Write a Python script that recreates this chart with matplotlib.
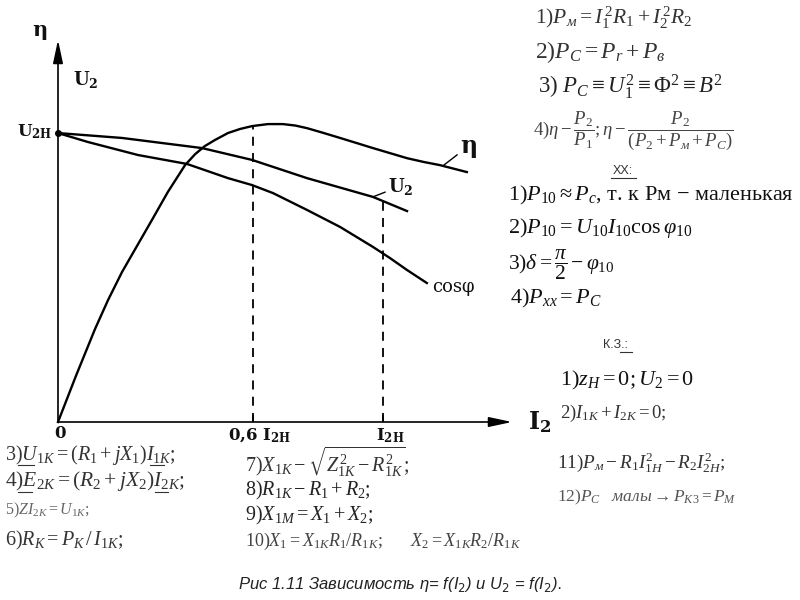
import matplotlib
matplotlib.use('Agg')
import matplotlib.pyplot as plt
from matplotlib.lines import Line2D

plt.rcParams['mathtext.fontset'] = 'custom'
plt.rcParams['mathtext.rm'] = 'Liberation Serif'
plt.rcParams['mathtext.it'] = 'Liberation Serif:italic'
plt.rcParams['mathtext.bf'] = 'Liberation Serif:bold'
plt.rcParams['mathtext.fallback'] = 'stix'

# load current I2 / I2H and relative values
eta_x = [0, 0.055, 0.114, 0.154, 0.197, 0.243, 0.289, 0.338, 0.391, 0.422,
         0.452, 0.483, 0.523, 0.56, 0.597, 0.646, 0.692, 0.73, 0.766, 0.815,
         0.868, 0.92, 0.969, 1.02, 1.074, 1.125, 1.175, 1.258]
eta_y = [0, 0.159, 0.322, 0.422, 0.519, 0.609, 0.699, 0.796, 0.889, 0.927,
         0.955, 0.976, 1.000, 1.014, 1.024, 1.031, 1.031, 1.026, 1.017, 1.001,
         0.983, 0.965, 0.948, 0.931, 0.913, 0.900, 0.889, 0.865]
u2_x = [0, 0.197, 0.443, 0.597, 0.766, 0.969, 1.074]
u2_y = [1.0, 0.983, 0.948, 0.907, 0.844, 0.779, 0.730]
cos_x = [0, 0.092, 0.246, 0.397, 0.523, 0.597, 0.662, 0.766, 0.868, 0.969,
         1.022, 1.074, 1.135]
cos_y = [1.0, 0.969, 0.924, 0.893, 0.844, 0.820, 0.792, 0.734, 0.675, 0.606,
         0.567, 0.526, 0.481]
dash_x = [0.6, 1.0]
dash_top = [1.026, 0.77]

W, H = 800, 600
fig = plt.figure(figsize=(8, 6), dpi=100)
ax = fig.add_axes([58 / W, 1 - 422 / H, 454 / W, 382 / H])
ax.set_xlim(0, 1.397)
ax.set_ylim(0, 1.322)
ax.axis('off')

ax.plot(eta_x, eta_y, color='k', lw=1.7, clip_on=False, solid_joinstyle='round')
ax.plot(u2_x, u2_y, color='k', lw=1.7, clip_on=False, solid_joinstyle='round')
ax.plot(cos_x, cos_y, color='k', lw=1.7, clip_on=False, solid_joinstyle='round')
ax.plot(0, 1.0, 'o', color='k', ms=4, clip_on=False)
for x, top in zip(dash_x, dash_top):
    ax.plot([x, x], [0, top], color='k', lw=1.3, ls=(0, (5, 4)))
    ax.plot([x, x], [0, 0.02], color='k', lw=1.2)

arr = dict(arrowstyle='-|>,head_length=1.4,head_width=0.3', lw=1.2,
           color='k', shrinkA=0, shrinkB=0)
ax.annotate('', xy=(1.397, 0), xytext=(0, 0), arrowprops=arr)
ax.annotate('', xy=(0, 1.322), xytext=(0, 0), arrowprops=arr)


def fp(x, y):
    return (x / W, 1 - y / H)


def uline(x0, x1, y, c='#333333'):
    fig.add_artist(Line2D([x0 / W, x1 / W], [1 - y / H, 1 - y / H], color=c, lw=0.8))


lab = dict(family='DejaVu Serif', math_fontfamily='dejavuserif',
           fontweight='bold', color='#111111')
fig.text(*fp(40, 30), r'η', fontsize=15, ha='center', va='center', **lab)
fig.text(*fp(86, 80), r'U$_\mathbf{2}$', fontsize=13, ha='center', va='center', **lab)
fig.text(*fp(52, 132), r'U$_\mathbf{2H}$', fontsize=12, ha='right', va='center', **lab)
fig.text(*fp(60, 433), '0', fontsize=12, ha='center', va='center', **lab)
fig.text(*fp(260, 436), r'0,6 I$_\mathbf{2H}$', fontsize=12, ha='center', va='center', **lab)
fig.text(*fp(390, 436), r'I$_\mathbf{2H}$', fontsize=12, ha='center', va='center', **lab)
fig.text(*fp(540, 422), r'I$_\mathbf{2}$', fontsize=17, ha='center', va='center', **lab)

lead = dict(arrowstyle='-', lw=1.0, color='k', shrinkA=0, shrinkB=0)
ax.annotate(r'η', xy=(1.185, 0.887), xytext=fp(460, 146), textcoords='figure fraction',
            fontsize=17, ha='left', va='center', arrowprops=lead, **lab)
ax.annotate(r'U$_\mathbf{2}$', xy=(0.969, 0.779), xytext=fp(388, 186),
            textcoords='figure fraction', fontsize=13, ha='left', va='center',
            arrowprops=lead, **lab)
fig.text(*fp(432, 287), 'cosφ', fontsize=13, ha='left', va='center',
         family='DejaVu Serif', color='#111111')

fs = dict(family='Liberation Serif', math_fontfamily='custom', ha='left', va='center')
right = [
    (535, 18, r'1)$P_{м} = I_1^{\,2}R_1 + I_2^{\,2}R_2$', 15.5, '#333333'),
    (535, 52, r'2)$P_C = P_r + P_в$', 17, '#333333'),
    (538, 87, r'3) $P_C \equiv U_1^2 \equiv Φ^2 \equiv B^2$', 16.5, '#222222'),
    (533, 131, r'4)$\eta - \dfrac{P_2}{P_1};\eta - \dfrac{P_2}{(P_2 + P_м + P_C)}$', 13.5, '#444444'),
    (508, 195, r'1)$P_{10} \approx P_c$, т. к Рм − маленькая', 16, '#111111'),
    (508, 228, r'2)$P_{10} = U_{10}I_{10}\cos\varphi_{10}$', 16, '#111111'),
    (508, 265, r'3)$\delta = \dfrac{\pi}{2} - \varphi_{10}$', 15.5, '#111111'),
    (510, 298, r'4)$P_{xx} = P_C$', 16, '#111111'),
    (560, 380, r'1)$z_H = 0; U_2 = 0$', 16, '#111111'),
    (560, 413, r'2)$I_{1K} + I_{2K} = 0;$', 13.5, '#333333'),
    (557, 463, r'11)$P_м - R_1I_{1H}^2 - R_2I_{2H}^2;$', 13.8, '#333333'),
    (557, 497, r'12)$P_C \quad малы \rightarrow P_{K3} = P_M$', 12.5, '#555555'),
    (5, 455, r'3)$U_{1K} = (R_1 + jX_1)I_{1K};$', 14.5, '#333333'),
    (5, 481, r'4)$E_{2K} = (R_2 + jX_2)I_{2K};$', 15.5, '#333333'),
    (5, 510, r'5)$ZI_{2K} = U_{1K};$', 11.5, '#666666'),
    (5, 540, r'6)$R_K = P_K\,/\,I_{1K};$', 14.5, '#333333'),
    (245, 462, r'7)$X_{1K} - \sqrt{Z_{1K}^2 - R_{1K}^2};$', 14.5, '#333333'),
    (245, 490, r'8)$R_{1K} - R_1 + R_2;$', 14.5, '#222222'),
    (245, 515, r'9)$X_{1M} = X_1 + X_2;$', 14.5, '#222222'),
    (245, 541, r'10)$X_1 = X_{1K}R_1/R_{1K};\quad\quad X_2 = X_{1K}R_2/R_{1K}$', 13, '#444444'),
]
for x, y, s, size, c in right:
    fig.text(*fp(x, y), s, fontsize=size, color=c, **fs)

# underlined complex quantities
uline(18, 34, 465)
uline(150, 164, 465)
uline(18, 32, 492)
uline(155, 168, 492)

fig.text(*fp(623, 171), 'XX:', fontsize=9, family='Liberation Sans', color='#333333',
         ha='center', va='center')
uline(611, 636, 178)
fig.text(*fp(615, 345), 'К.З.:', fontsize=9, family='Liberation Sans', color='#333333',
         ha='center', va='center')
uline(620, 632, 352)

fig.text(*fp(400, 584), r'Рис 1.11 Зависимость η= f(I$_\mathit{2}$) и U$_\mathit{2}$ = f(I$_\mathit{2}$).',
         fontsize=12, family='Liberation Sans', style='italic', math_fontfamily='dejavusans',
         color='#222222', ha='center', va='center')

fig.savefig('out.png', dpi=100)
